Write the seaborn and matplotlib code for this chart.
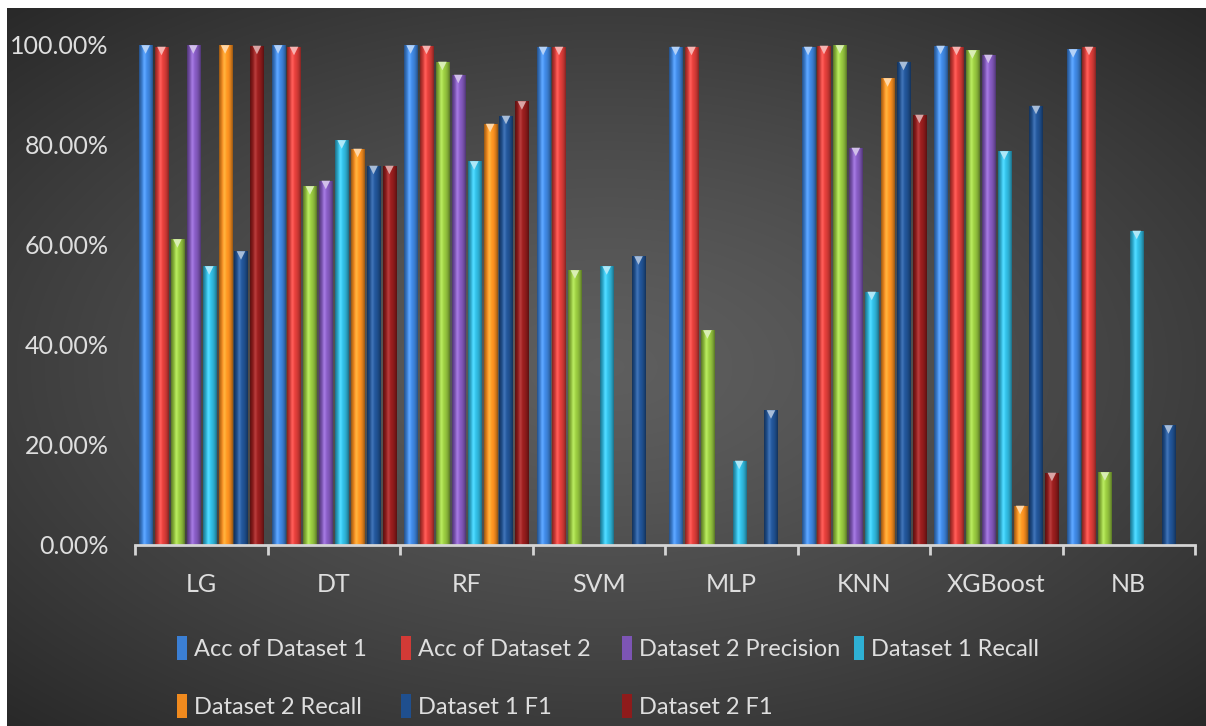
import numpy as np
import pandas as pd
import matplotlib
matplotlib.use("Agg")
import matplotlib.pyplot as plt
import seaborn as sns
from matplotlib.colors import to_rgb
from matplotlib.patches import Rectangle
from matplotlib.ticker import FuncFormatter, FixedLocator

nan = np.nan

# ---- data (percent) ----
models = ["LG", "DT", "RF", "SVM", "MLP", "KNN", "XGBoost", "NB"]
acc_ds1 = [100.0, 100.0, 100.0, 99.7, 99.7, 99.7, 99.9, 99.2]
acc_ds2 = [99.7, 99.7, 99.9, 99.7, 99.7, 99.9, 99.7, 99.7]
prec_ds1 = [61.2, 71.8, 96.7, 55.0, 43.0, 100.0, 99.0, 14.6]
prec_ds2 = [100.0, 72.9, 94.1, nan, nan, 79.5, 98.1, nan]
recall_ds1 = [55.8, 81.0, 76.8, 55.8, 16.9, 50.7, 78.8, 62.9]
recall_ds2 = [100.0, 79.3, 84.3, nan, nan, 93.4, 7.9, nan]
f1_ds1 = [58.8, 75.9, 85.9, 57.8, 27.0, 96.7, 87.9, 24.0]
f1_ds2 = [99.9, 75.9, 88.8, nan, nan, 86.1, 14.5, nan]

series_names = ["Acc of Dataset 1", "Acc of Dataset 2", "Dataset 1 Precision",
                "Dataset 2 Precision", "Dataset 1 Recall", "Dataset 2 Recall",
                "Dataset 1 F1", "Dataset 2 F1"]
series_values = [acc_ds1, acc_ds2, prec_ds1, prec_ds2,
                 recall_ds1, recall_ds2, f1_ds1, f1_ds2]
series_colors = ["#3b7fd4", "#d23a36", "#8fbd3c", "#7d55b5",
                 "#2eb0d4", "#f08a1e", "#1f4f8e", "#8e1b1b"]
# legend rows (the green precision series is not listed)
legend_rows = [["Acc of Dataset 1", "Acc of Dataset 2", "Dataset 2 Precision",
                "Dataset 1 Recall"],
               ["Dataset 2 Recall", "Dataset 1 F1", "Dataset 2 F1"]]

rows = []
for name, vals in zip(series_names, series_values):
    for m, v in zip(models, vals):
        if not np.isnan(v):
            rows.append({"model": m, "metric": name, "value": v})
df = pd.DataFrame(rows)

# ---- figure ----
W, H = 1206, 726
fig = plt.figure(figsize=(W / 100, H / 100), dpi=100, facecolor="white")

# dark radial-gradient backdrop (thin white margin at top and left)
bg = fig.add_axes([7 / W, 0, 1 - 7 / W, 1 - 8 / H], zorder=0)
yy, xx = np.mgrid[-1:1:300j, -1:1:500j]
r = np.clip(np.sqrt((xx * 0.95) ** 2 + (yy * 1.0) ** 2) / 1.38, 0, 1)
c_in = np.array([0.37, 0.37, 0.37])
c_out = np.array([0.16, 0.16, 0.16])
img = c_in + (c_out - c_in) * (r[..., None] ** 1.3)
bg.imshow(img, aspect="auto", extent=[0, 1, 0, 1], interpolation="bilinear")
bg.set_axis_off()

ax = fig.add_axes([135 / W, 1 - 545 / H, (1195 - 135) / W, (545 - 45) / H], zorder=1)
ax.set_facecolor("none")

sns.barplot(data=df, x="model", y="value", hue="metric", order=models,
            hue_order=series_names, palette=series_colors, saturation=1,
            width=0.96, gap=0.17, errorbar=None, legend=False, ax=ax,
            linewidth=0)

ax.set_xlim(-0.5, len(models) - 0.5)
ax.set_ylim(0, 100)


def shade_strip(color, n=48):
    base = np.array(to_rgb(color))
    t = np.linspace(0, 1, n)
    f = 0.62 + 0.48 * np.sin(np.pi * t) ** 0.8
    hl = np.exp(-((t - 0.38) / 0.12) ** 2) * 0.12
    col = np.clip(base[None, :] * f[:, None] + hl[:, None], 0, 1)
    return col[None, :, :]


tops_x, tops_y, tops_c = [], [], []
for p in list(ax.patches):
    if not isinstance(p, Rectangle):
        continue
    x, w, h = p.get_x(), p.get_width(), p.get_height()
    if h <= 0 or np.isnan(h):
        continue
    fc = p.get_facecolor()
    im = ax.imshow(shade_strip(fc), extent=[x, x + w, 0, h], aspect="auto",
                   interpolation="bilinear", zorder=p.get_zorder() + 0.1)
    im.set_clip_path(p)
    base = np.array(to_rgb(fc))
    tops_x.append(x + w / 2)
    tops_y.append(h - 0.9)
    tops_c.append(np.clip(base * 0.45 + 0.6, 0, 1))

ax.scatter(tops_x, tops_y, marker="v", s=38, c=tops_c, linewidths=0, zorder=5)

ax.set_xlim(-0.5, len(models) - 0.5)
ax.set_ylim(0, 100)
ax.set_aspect("auto")

# ---- axes styling ----
txt = "#dedede"
font = ["Lato", "DejaVu Sans"]
for s in ["top", "right", "left"]:
    ax.spines[s].set_visible(False)
ax.spines["bottom"].set_color("#d4d4d4")
ax.spines["bottom"].set_linewidth(2)

ax.set_yticks([0, 20, 40, 60, 80, 100])
ax.yaxis.set_major_formatter(FuncFormatter(lambda v, _: f"{v:.2f}%"))
ax.tick_params(axis="y", length=0, pad=19, labelcolor=txt, labelsize=18)
ax.tick_params(axis="x", which="major", length=0, pad=20, labelcolor=txt,
               labelsize=18)
ax.xaxis.set_minor_locator(FixedLocator(np.arange(-0.5, len(models), 1.0)))
ax.tick_params(axis="x", which="minor", length=7, width=2, color="#d4d4d4",
               direction="out")
for lab in ax.get_xticklabels() + ax.get_yticklabels():
    lab.set_family(font)
ax.set_xlabel("")
ax.set_ylabel("")

# ---- legend: one entry per slot on a fixed grid ----
handles = {n: Rectangle((0, 0), 1, 1, facecolor=c, edgecolor="none")
           for n, c in zip(series_names, series_colors)}
col_x = [177, 401, 622, 854]
row_y = [648, 706]
for ri, names in enumerate(legend_rows):
    for ci, n in enumerate(names):
        leg = fig.legend([handles[n]], [n], loc="center left",
                         bbox_to_anchor=(col_x[ci] / W, 1 - row_y[ri] / H),
                         frameon=False, handlelength=0.42, handleheight=1.25,
                         handletextpad=0.3, borderpad=0, borderaxespad=0,
                         prop={"family": font, "size": 17})
        for t in leg.get_texts():
            t.set_color(txt)

fig.savefig("out.png", dpi=100, facecolor=fig.get_facecolor())
